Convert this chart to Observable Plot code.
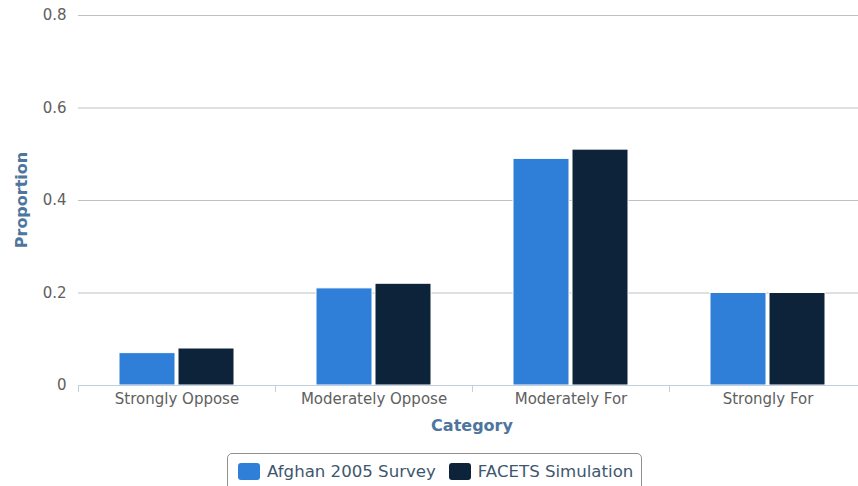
<!DOCTYPE html>
<html>
<head>
<meta charset="utf-8">
<script src="https://cdn.jsdelivr.net/npm/d3@7"></script>
<script src="https://cdn.jsdelivr.net/npm/@observablehq/plot@0.6"></script>
<style>
  html, body { margin: 0; padding: 0; background: #fff; overflow: hidden; width: 858px; height: 486px; }
  #wrap { position: relative; width: 858px; height: 486px; overflow: hidden; font-family: "DejaVu Sans", sans-serif; }
  #chart { position: absolute; left: 0; top: 0; }
  .ytitle { position: absolute; left: 21px; top: 200px; transform: translate(-50%, -50%) rotate(-90deg); font-size: 16px; font-weight: bold; color: #4d759e; white-space: nowrap; }
  .xtitle { position: absolute; left: 472px; top: 425px; transform: translate(-50%, -50%); font-size: 16px; font-weight: bold; color: #4d759e; white-space: nowrap; }
  #legend { position: absolute; left: 227px; top: 453px; width: 415px; height: 44px; border: 1px solid #909090; border-radius: 5px; box-sizing: border-box; display: flex; align-items: flex-start; padding-top: 8px; padding-left: 10px; gap: 13px; }
  .item { display: flex; align-items: center; font-size: 16.6px; color: #3e576f; white-space: nowrap; }
  .sw { width: 22px; height: 17px; border-radius: 3px; margin-right: 7px; }
</style>
</head>
<body>
<div id="wrap">
  <div id="chart"></div>
  <div class="ytitle">Proportion</div>
  <div class="xtitle">Category</div>
  <div id="legend"></div>
</div>
<script>
const categories = ["Strongly Oppose", "Moderately Oppose", "Moderately For", "Strongly For"];
const seriesNames = ["Afghan 2005 Survey", "FACETS Simulation"];
const afghan = [0.07, 0.21, 0.49, 0.20];
const facets = [0.08, 0.22, 0.51, 0.20];
const yTicks = [0, 0.2, 0.4, 0.6, 0.8];
const colors = ["#2f7ed8", "#0d233a"];

const data = categories.flatMap((c, i) => [
  {category: c, series: seriesNames[0], value: afghan[i]},
  {category: c, series: seriesNames[1], value: facets[i]}
]);

const plot = Plot.plot({
  width: 866,
  height: 440,
  marginLeft: 77,
  marginRight: 0,
  marginTop: 15,
  marginBottom: 55,
  style: {fontFamily: "DejaVu Sans", fontSize: "15px", color: "#606060", background: "white", overflow: "visible", maxWidth: "none"},
  fx: {domain: categories, padding: 0, label: null},
  x: {domain: seriesNames, paddingInner: 0.05, paddingOuter: 0.68, axis: null},
  y: {domain: [0, 0.8], label: null},
  color: {domain: seriesNames, range: colors},
  marks: [
    Plot.gridY(yTicks.filter(d => d > 0), {stroke: "#c0c0c0", strokeOpacity: 1}),
    Plot.barY(data, {fx: "category", x: "series", y: "value", fill: "series", stroke: "white", strokeWidth: 1}),
    Plot.ruleY([0], {stroke: "#c0d0e0", strokeWidth: 1}),
    Plot.axisY(yTicks, {tickSize: 0, tickPadding: 12, tickFormat: d => d === 0 ? "0" : d.toFixed(1), label: null, fill: "#606060"}),
    Plot.axisFx({tickSize: 0, tickPadding: 8, label: null, anchor: "bottom", fill: "#606060"})
  ]
});
plot.style.maxWidth = "none";

document.getElementById("chart").appendChild(plot);

// category boundary ticks, placed with the fx band scale
const fx = plot.scale("fx");
const y = plot.scale("y");
const bounds = categories.map(c => fx.apply(c)).concat([fx.apply(categories[categories.length - 1]) + fx.bandwidth]);
const y0 = y.apply(0);
d3.select(plot).append("g")
  .selectAll("line").data(bounds).join("line")
  .attr("x1", d => Math.round(d) + 0.5).attr("x2", d => Math.round(d) + 0.5)
  .attr("y1", y0).attr("y2", y0 + 7)
  .attr("stroke", "#c0d0e0");

// legend
const legend = d3.select("#legend");
seriesNames.forEach((s, i) => {
  const it = legend.append("div").attr("class", "item");
  it.append("div").attr("class", "sw").style("background", colors[i]);
  it.append("span").text(s);
});
</script>
</body>
</html>
